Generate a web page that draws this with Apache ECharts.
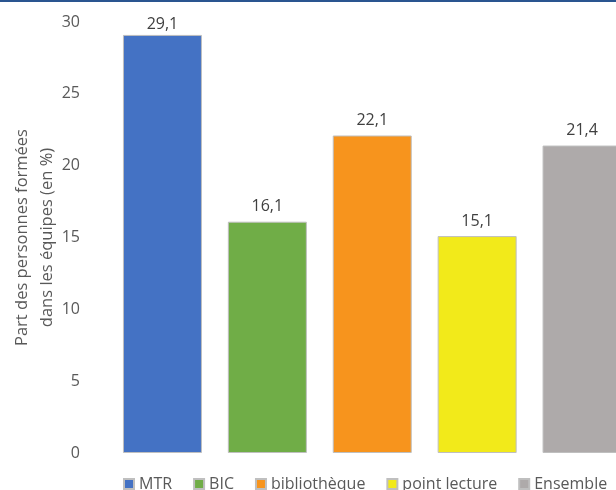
<!DOCTYPE html>
<html>
<head>
<meta charset="utf-8">
<script src="https://cdn.jsdelivr.net/npm/echarts@6/dist/echarts.min.js"></script>
<style>
  html, body { margin: 0; padding: 0; overflow: hidden; background: #fff; }
  #chart { width: 740px; height: 490px; }
</style>
</head>
<body>
<div id="chart"></div>
<script>
// données
const categories = ['MTR', 'BIC', 'bibliothèque', 'point lecture', 'Ensemble'];
const values = [29.1, 16.1, 22.1, 15.1, 21.4];
const barColors = ['#4472C4', '#70AD47', '#F7941D', '#F2EA1A', '#AEAAAA'];
const yTicks = [0, 5, 10, 15, 20, 25, 30];

const textColor = '#595959';
const fontFamily = '"Open Sans", sans-serif';
const yMax = yTicks[yTicks.length - 1];

const chart = echarts.init(document.getElementById('chart'));

// une série par catégorie pour avoir la légende
const series = categories.map((name, i) => ({
  name: name,
  type: 'bar',
  barGap: '-100%',
  barCategoryGap: '24.7%',
  data: values.map((v, j) => {
    if (j !== i) return '-';
    // étiquette collée au haut du graphique quand la barre est presque au max
    return v > yMax - 2 ? { value: v, label: { distance: 2 } } : v;
  }),
  itemStyle: {
    color: barColors[i],
    borderColor: '#BFBFBF',
    borderWidth: 1,
  },
  label: {
    show: true,
    position: 'top',
    distance: 7,
    color: '#404040',
    fontSize: 16,
    fontFamily: fontFamily,
    formatter: (p) => String(p.value).replace('.', ','),
  },
}));

const option = {
  animation: false,
  graphic: [
    {
      type: 'rect',
      shape: { x: 0, y: 0, width: 740, height: 2 },
      style: { fill: '#2A5590' },
    },
  ],
  grid: {
    left: 110,
    width: 524.5,
    top: 22,
    bottom: 37,
    containLabel: false,
    outerBoundsMode: 'none',
  },
  legend: {
    left: 118,
    top: 471,
    itemWidth: 10,
    itemHeight: 10,
    itemGap: 21,
    icon: 'rect',
    textStyle: { color: textColor, fontSize: 16, fontFamily: fontFamily },
    data: categories,
  },
  xAxis: {
    type: 'category',
    data: categories,
    axisLine: { show: false },
    axisTick: { show: false },
    axisLabel: { show: false },
  },
  yAxis: {
    type: 'value',
    min: yTicks[0],
    max: yMax,
    interval: 5,
    name: 'Part des personnes formées\ndans les équipes (en %)',
    nameLocation: 'middle',
    nameRotate: 90,
    nameGap: 50,
    nameMoveOverlap: false,
    nameTextStyle: {
      color: textColor,
      fontSize: 16.5,
      fontFamily: fontFamily,
      lineHeight: 25,
      align: 'center',
    },
    axisLine: { show: false },
    axisTick: { show: false },
    splitLine: { show: false },
    axisLabel: {
      color: textColor,
      fontSize: 16,
      fontFamily: fontFamily,
      margin: 30,
    },
  },
  series: series,
};

chart.setOption(option);
</script>
</body>
</html>
